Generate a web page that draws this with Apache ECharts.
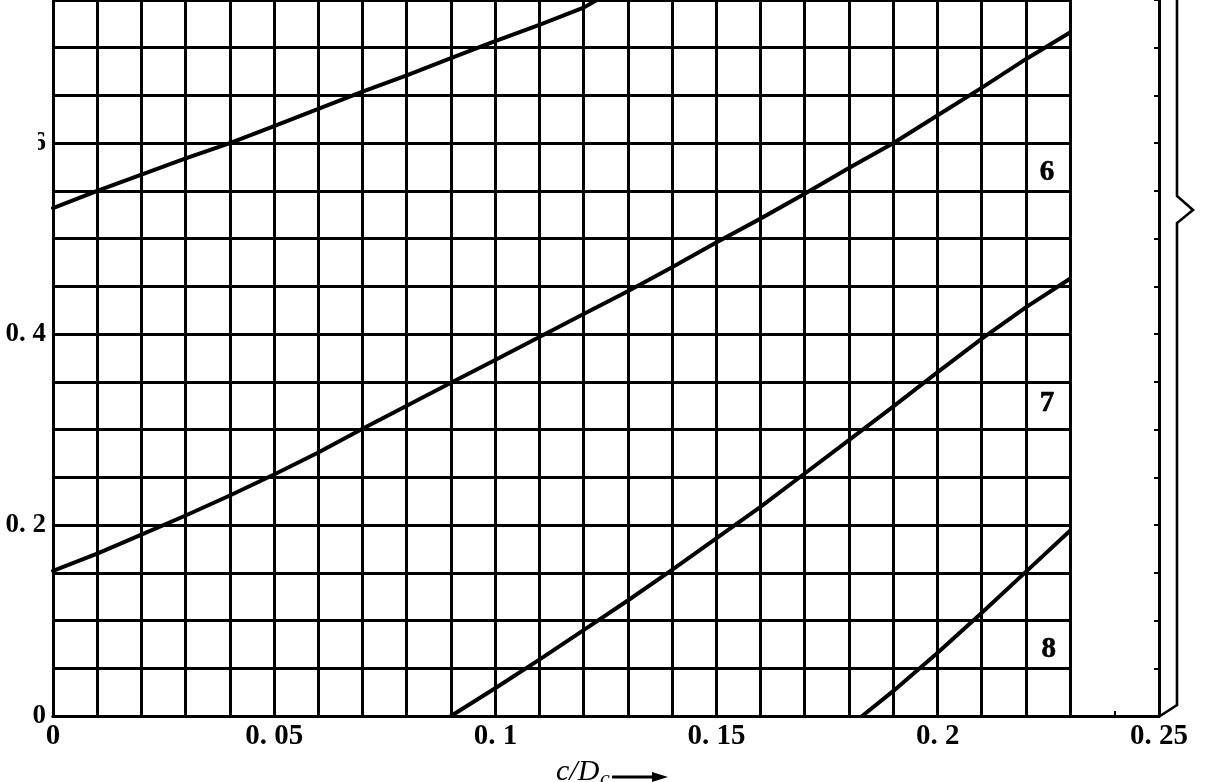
<!DOCTYPE html>
<html>
<head>
<meta charset="utf-8">
<script src="https://cdn.jsdelivr.net/npm/echarts@6/dist/echarts.min.js"></script>
<style>
html,body{margin:0;padding:0;background:#fff;}
#chart{width:1208px;height:782px;}
</style>
</head>
<body>
<div id="chart"></div>
<script>
// ---- data ----
const curveNames = ['6', '7', '8'];
const lineA_x = [0, 0.01, 0.02, 0.03, 0.04, 0.05, 0.06, 0.07, 0.08, 0.09, 0.10, 0.11, 0.12, 0.123];
const lineA_y = [0.532, 0.550, 0.567, 0.584, 0.600, 0.618, 0.636, 0.654, 0.671, 0.689, 0.707, 0.724, 0.742, 0.750];
const lineB_x = [0, 0.01, 0.02, 0.03, 0.04, 0.05, 0.06, 0.07, 0.08, 0.09, 0.10, 0.11, 0.12, 0.13, 0.14, 0.15, 0.16, 0.17, 0.18, 0.19, 0.20, 0.21, 0.22, 0.23];
const lineB_y = [0.152, 0.170, 0.190, 0.210, 0.231, 0.253, 0.276, 0.301, 0.325, 0.349, 0.373, 0.397, 0.421, 0.445, 0.470, 0.496, 0.521, 0.547, 0.574, 0.600, 0.629, 0.658, 0.688, 0.716];
const lineC_x = [0.09, 0.10, 0.11, 0.12, 0.13, 0.14, 0.15, 0.16, 0.17, 0.18, 0.19, 0.20, 0.21, 0.22, 0.23];
const lineC_y = [0, 0.029, 0.059, 0.090, 0.121, 0.153, 0.186, 0.219, 0.254, 0.289, 0.324, 0.360, 0.395, 0.428, 0.458];
const lineD_x = [0.183, 0.19, 0.20, 0.21, 0.22, 0.23];
const lineD_y = [0, 0.026, 0.066, 0.108, 0.151, 0.194];
const curveLabelX = [0.2248, 0.2248, 0.2252];
const curveLabelY = [0.569, 0.327, 0.070];
const xTickLabels = ['0', '0. 05', '0. 1', '0. 15', '0. 2', '0. 25'];
const yTickLabels = ['0', '0. 2', '0. 4', '0. 6'];

const zip = (xs, ys) => xs.map((x, i) => [x, ys[i]]);
const FONT = 'Liberation Serif';

const chart = echarts.init(document.getElementById('chart'), null, {renderer: 'canvas'});

const lineSeries = (xs, ys) => ({
  type: 'line', xAxisIndex: 0, yAxisIndex: 0,
  data: zip(xs, ys), showSymbol: false, smooth: false, clip: true,
  lineStyle: {color: '#000', width: 4, join: 'round', cap: 'round'}, z: 5, silent: true,
  emphasis: {disabled: true}
});

const option = {
  animation: false,
  backgroundColor: '#fff',
  grid: [
    {left: 53, right: 138, top: -1, bottom: 66},
    {left: 53, right: 49, top: -1, bottom: 66}
  ],
  xAxis: [
    {
      gridIndex: 0, type: 'value', min: 0, max: 0.23, interval: 0.01,
      axisLine: {show: true, onZero: false, lineStyle: {color: '#000', width: 3}},
      axisTick: {show: false}, axisLabel: {show: false},
      splitLine: {show: true, lineStyle: {color: '#000', width: 3}}
    },
    {
      gridIndex: 1, type: 'value', min: 0, max: 0.25, interval: 0.01,
      axisLine: {show: true, onZero: false, lineStyle: {color: '#000', width: 3}},
      axisTick: {show: true, inside: true, length: 5, lineStyle: {color: '#000', width: 2}},
      splitLine: {show: false},
      axisLabel: {
        show: true, showMaxLabel: true, showMinLabel: true, margin: 6,
        fontFamily: FONT, fontWeight: 'bold', fontSize: 29, color: '#000',
        formatter: v => {
          const k = Math.round(v * 100);
          return (k % 5 === 0) ? xTickLabels[k / 5] : '';
        }
      }
    }
  ],
  yAxis: [
    {
      gridIndex: 0, type: 'value', min: 0, max: 0.75, interval: 0.05,
      axisLine: {show: true, onZero: false, lineStyle: {color: '#000', width: 3}},
      axisTick: {show: false},
      splitLine: {show: true, lineStyle: {color: '#000', width: 3}},
      axisLabel: {
        show: true, margin: 7, showMaxLabel: false,
        fontFamily: FONT, fontWeight: 'bold', fontSize: 27, color: '#000',
        formatter: v => {
          const k = Math.round(v * 100);
          return (k % 20 === 0 && k / 20 < yTickLabels.length) ? yTickLabels[k / 20] : '';
        }
      }
    },
    {
      gridIndex: 1, type: 'value', min: 0, max: 0.75, interval: 0.05, position: 'right',
      axisLine: {show: true, onZero: false, lineStyle: {color: '#000', width: 3}},
      axisTick: {show: true, inside: true, length: 5, lineStyle: {color: '#000', width: 2}},
      axisLabel: {show: false}, splitLine: {show: false}
    }
  ],
  series: [
    lineSeries(lineA_x, lineA_y),
    lineSeries(lineB_x, lineB_y),
    lineSeries(lineC_x, lineC_y),
    lineSeries(lineD_x, lineD_y),
    {
      type: 'scatter', xAxisIndex: 0, yAxisIndex: 0, symbolSize: 0, silent: true, z: 6,
      emphasis: {disabled: true},
      data: curveNames.map((n, i) => ({value: [curveLabelX[i], curveLabelY[i]], name: n})),
      label: {
        show: true, position: 'inside', formatter: p => p.name,
        fontFamily: FONT, fontWeight: 'bold', fontSize: 29, color: '#000',
        textBorderColor: '#000', textBorderWidth: 0.6, opacity: 1
      }
    }
  ]
};
chart.setOption(option);

// decorations: brace on the right, cropped 0.6 label, x-axis title
const pBot = chart.convertToPixel({xAxisIndex: 1, yAxisIndex: 1}, [0.25, 0]);
const pTop = chart.convertToPixel({xAxisIndex: 1, yAxisIndex: 1}, [0.25, 0.75]);
const pZig = chart.convertToPixel({xAxisIndex: 1, yAxisIndex: 1}, [0.25, 0.53]);
const bx = pBot[0] + 18;
chart.setOption({
  graphic: [
    {
      type: 'polyline', z: 10, silent: true,
      shape: {points: [
        [bx, pTop[1]], [bx, pZig[1] - 14], [bx + 16, pZig[1]], [bx, pZig[1] + 13],
        [bx, pBot[1] - 11], [pBot[0] + 1, pBot[1]]
      ]},
      style: {stroke: '#000', lineWidth: 2.6, fill: null}
    },
    {
      type: 'rect', z: 20, silent: true,
      shape: {x: 0, y: 120, width: 38, height: 45},
      style: {fill: '#fff'}
    },
    {
      type: 'text', z: 10, silent: true, left: 556, top: 757,
      style: {text: 'c/D', font: 'italic 30px "Liberation Serif"', fill: '#000'}
    },
    {
      type: 'text', z: 10, silent: true, left: 600, top: 768,
      style: {text: 'c', font: 'italic 22px "Liberation Serif"', fill: '#000'}
    },
    {
      type: 'line', z: 10, silent: true,
      shape: {x1: 612, y1: 777, x2: 660, y2: 777},
      style: {stroke: '#000', lineWidth: 3}
    },
    {
      type: 'polygon', z: 10, silent: true,
      shape: {points: [[652, 772], [668, 777], [652, 782]]},
      style: {fill: '#000'}
    }
  ]
});
</script>
</body>
</html>
